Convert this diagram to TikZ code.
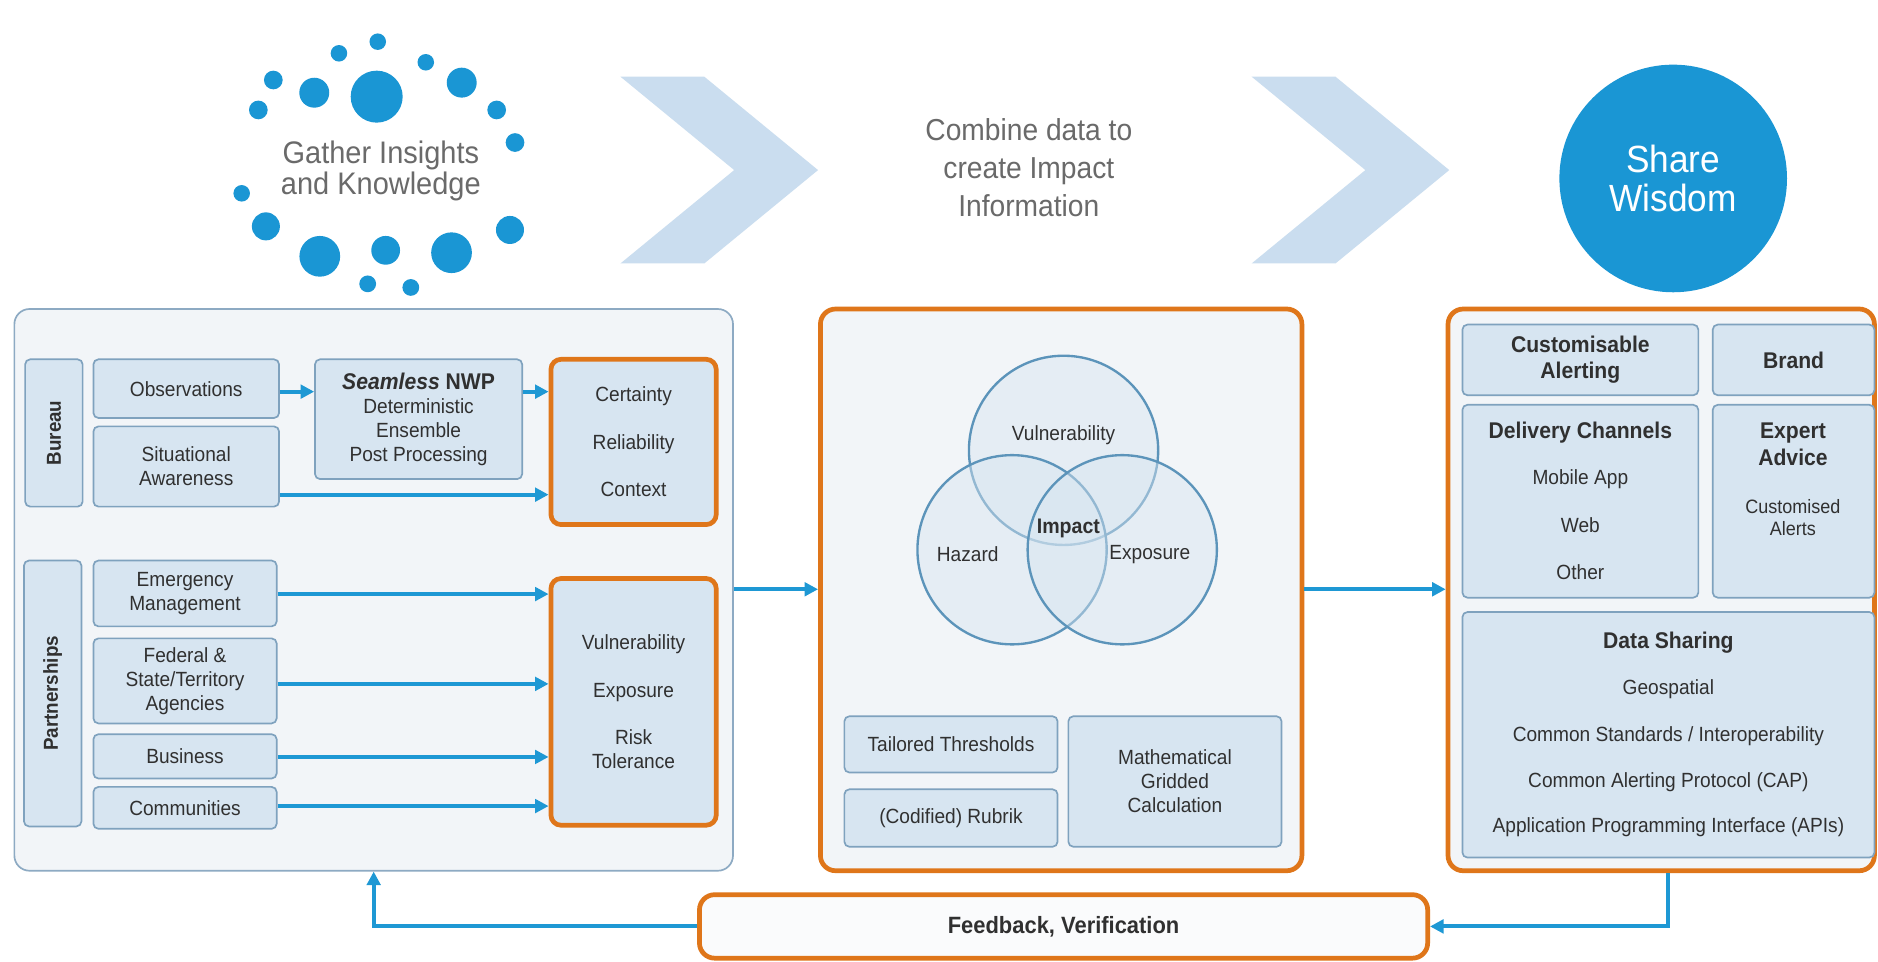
\documentclass[tikz,border=0pt]{standalone}
\usepackage{fontspec}
\setmainfont{Liberation Sans}[FakeStretch=0.93]
\usepackage{tikz}
\usetikzlibrary{arrows.meta,fit}

\definecolor{arrowblue}{HTML}{1E98D4}
\definecolor{dotblue}{HTML}{1A96D4}
\definecolor{boxfill}{HTML}{D7E5F1}
\definecolor{boxline}{HTML}{7FA2BE}
\definecolor{panelfill}{HTML}{F2F5F8}
\definecolor{panelline}{HTML}{8DAAC3}
\definecolor{orangeline}{HTML}{DF761A}
\definecolor{chevron}{HTML}{CADDEF}
\definecolor{textgray}{HTML}{6A6A6A}
\definecolor{textdark}{HTML}{303030}
\definecolor{vennline}{HTML}{5C94BA}

\begin{document}
\begin{tikzpicture}[x=0.025cm,y=-0.025cm,
  every node/.style={text=textdark,font=\fontsize{12.2}{14.2}\selectfont,align=center},
  box/.style={draw=boxline,fill=boxfill,line width=1pt,rounded corners=3pt,inner sep=0pt},
  panel/.style={draw=panelline,fill=panelfill,line width=1pt,rounded corners=9pt,inner sep=0pt},
  orangebox/.style={draw=orangeline,fill=boxfill,line width=2.8pt,rounded corners=6pt,inner sep=0pt},
  orangepanel/.style={draw=orangeline,fill=panelfill,line width=2.8pt,rounded corners=9pt,inner sep=0pt},
  flow/.style={draw=arrowblue,line width=2.4pt,-{Triangle[length=8pt,width=8pt]}},
  venn/.style={draw=vennline,line width=1.4pt,fill=boxfill,fill opacity=0.45},
  hd/.style={font=\fontsize{13.5}{15.5}\selectfont\bfseries},
  side/.style={rotate=90,font=\fontsize{12}{14}\selectfont\bfseries}]
\fill[white] (0,0) rectangle (1568,803);
\useasboundingbox (0,0) rectangle (1568,803);

\foreach \x/\y/\r in {315.4/34.8/6.9,283/44.5/6.9,355.5/52/6.9,228.2/66.8/7.8,314.5/80.7/21.7,262.4/77.4/12.5,385.5/69/12.5,215.7/91.8/7.8,414.7/91.8/7.8,430/119/7.8,201.8/161.4/6.9,222/189/11.7,425.8/192/11.7,267/214/17,322/209/12,377/211/17,307/237/7,343/240/7}
  \fill[dotblue] (\x,\y) circle [radius=\r];
\node[text=textgray,font=\fontsize{18.5}{18.5}\selectfont] (gather title) at (318,143) {Gather Insights\\and Knowledge};

\fill[chevron] (518,64) -- (588,64) -- (683,142) -- (588,220) -- (518,220) -- (613,142) -- cycle;
\fill[chevron] (1045,64) -- (1115,64) -- (1210,142) -- (1115,220) -- (1045,220) -- (1140,142) -- cycle;
\node[text=textgray,font=\fontsize{18}{22.4}\selectfont] (combine title) at (859,140) {Combine data to\\create Impact\\Information};
\node[circle,fill=dotblue,minimum size=4.75cm,text=white,font=\fontsize{22.5}{23.5}\selectfont] (wisdom) at (1397,149) {Share\\Wisdom};

\node[panel,fit={(12,258) (612,727)}] (gather) {};
\node[box,fit={(21,300) (69,423)},label={[side]center:Bureau}] (bureau) {};
\node[box,fit={(78,300) (233,349)},label=center:Observations] (obs) {};
\node[box,fit={(78,356) (233,423)},label={center:{Situational\\Awareness}}] (sit) {};
\node[box,fit={(263,300) (436,400)},label={center:{{\fontsize{13.5}{14.2}\selectfont\bfseries\itshape Seamless \upshape NWP}\\Deterministic\\Ensemble\\Post Processing}}] (nwp) {};
\node[orangebox,fit={(460,300) (598,438)},label={center:{Certainty\\[14pt]Reliability\\[14pt]Context}}] (cert) {};
\draw[flow] (obs.east |- 0,327) -- (nwp.west |- 0,327);
\draw[flow] (nwp.east |- 0,327) -- (cert.west |- 0,327);
\draw[flow] (sit.east |- 0,413) -- (cert.west |- 0,413);

\node[box,fit={(20,468) (68,690)},label={[side]center:Partnerships}] (partners) {};
\node[box,fit={(78,468) (231,523)},label={center:{Emergency\\Management}}] (ems) {};
\node[box,fit={(78,533) (231,604)},label={center:{Federal \&\\State/Territory\\Agencies}}] (agencies) {};
\node[box,fit={(78,613) (231,650)},label=center:Business] (business) {};
\node[box,fit={(78,657) (231,692)},label=center:Communities] (communities) {};
\node[orangebox,fit={(460,483) (598,689)},label={center:{Vulnerability\\[14pt]Exposure\\[14pt]Risk\\Tolerance}}] (risk) {};
\draw[flow] (ems.east |- 0,496) -- (risk.west |- 0,496);
\draw[flow] (agencies.east |- 0,571) -- (risk.west |- 0,571);
\draw[flow] (business.east |- 0,632) -- (risk.west |- 0,632);
\draw[flow] (communities.east |- 0,673) -- (risk.west |- 0,673);

\node[orangepanel,fit={(685,258) (1087,727)}] (combine) {};
\draw[venn] (888,376) circle [radius=79];
\draw[venn] (845,459) circle [radius=79];
\draw[venn] (937,459) circle [radius=79];
\node (vuln) at (888,363) {Vulnerability};
\node (hazard) at (808,463) {Hazard};
\node (exposure) at (960,463) {Exposure};
\node[font=\fontsize{12.5}{14}\selectfont\bfseries] (impact) at (892,441) {Impact};
\node[box,fit={(705,598) (883,645)},label=center:Tailored Thresholds] (thresholds) {};
\node[box,fit={(705,659) (883,707)},label=center:(Codified) Rubrik] (rubrik) {};
\node[box,fit={(892,598) (1070,707)},label={center:{Mathematical\\Gridded\\Calculation}}] (calc) {};
\draw[flow] (gather.east |- 0,492) -- (combine.west |- 0,492);

\node[orangepanel,fit={(1209,258) (1565,727)}] (share) {};
\node[box,fit={(1221,271) (1418,330)},label={[hd]center:{Customisable\\Alerting}}] (alerting) {};
\node[box,fit={(1430,271) (1565,330)},label={[hd]center:Brand}] (brand) {};
\node[box,fit={(1221,338) (1418,499)},label={center:{{\fontsize{13.5}{15}\selectfont\bfseries Delivery Channels}\\[13pt]Mobile App\\[14pt]Web\\[14pt]Other}}] (channels) {};
\node[box,fit={(1430,338) (1565,499)}] (expert) {};
\node[font=\fontsize{13.5}{16.4}\selectfont\bfseries] (expert title) at (1497,371) {Expert\\Advice};
\node[font=\fontsize{11.5}{13}\selectfont] (custom) at (1497,432) {Customised\\Alerts};
\node[box,fit={(1221,511) (1565,716)},label={center:{{\fontsize{13.5}{15}\selectfont\bfseries Data Sharing}\\[13pt]Geospatial\\[13.5pt]Common Standards / Interoperability\\[13.5pt]Common Alerting Protocol (CAP)\\[12.5pt]Application Programming Interface (APIs)}}] (datasharing) {};
\draw[flow] (combine.east |- 0,492) -- (share.west |- 0,492);

\node[orangepanel,fill=white!60!panelfill,fit={(584,747) (1192,800)},label={[font=\fontsize{14}{16}\selectfont\bfseries]center:{Feedback, Verification}}] (feedback) {};
\draw[flow] (share.south -| 1393,0) |- (feedback.east);
\draw[flow] (feedback.west) -| (gather.south -| 312,0);
\end{tikzpicture}
\end{document}
